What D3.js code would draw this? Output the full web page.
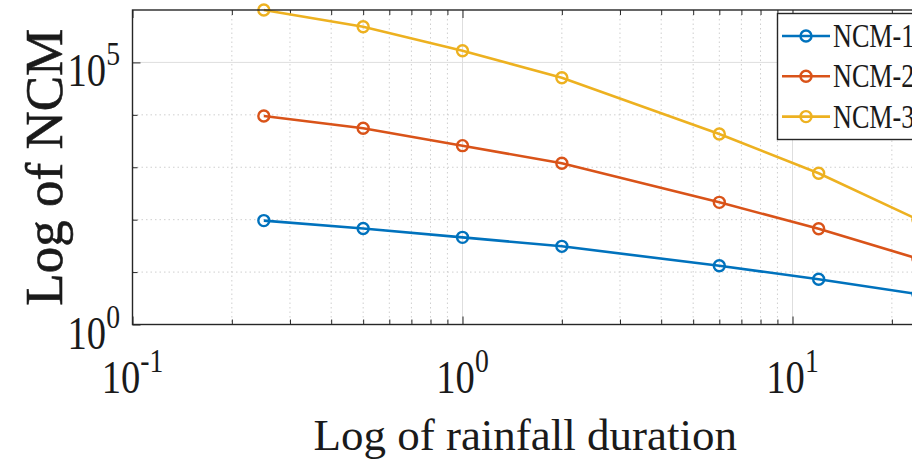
<!DOCTYPE html>
<html>
<head>
<meta charset="utf-8">
<script src="https://cdn.jsdelivr.net/npm/d3@7/dist/d3.min.js"></script>
<style>
  html, body { margin: 0; padding: 0; background: #fff; overflow: hidden; }
  svg { display: block; }
</style>
</head>
<body>
<svg id="chart" width="912" height="460"></svg>
<script>
// Rainfall duration (h) and NCM values per series
const durations = [0.25, 0.5, 1, 2, 6, 12, 24];
const seriesNames = ["NCM-1", "NCM-2", "NCM-3"];
const ncm1 = [96, 68, 46, 31, 13.2, 7.3, 3.8];
const ncm2 = [9500, 5530, 2580, 1190, 214, 67, 18];
const ncm3 = [1000000, 480000, 167000, 51000, 4300, 766, 100];
const seriesColors = ["#0072BD", "#D95319", "#EDB120"];

// Axis tick labels (base 10 with exponent)
const xTickValues = [0.1, 1, 10];
const xTickExponents = ["-1", "0", "1"];
const yTickValues = [1, 1e5];
const yTickExponents = ["0", "5"];

const svg = d3.select("#chart");
const plotLeft = 132.5, plotRight = 918, plotTop = 10, plotBottom = 324.5;

const x = d3.scaleLog().domain([0.1, 24]).range([plotLeft, plotRight]);
const y = d3.scaleLog().domain([1, 1e6]).range([plotBottom, plotTop]);

const axisColor = "#262626";
const serif = "'Liberation Serif', 'Times New Roman', serif";

// Minor positions: 2..9 within each decade on x, every decade on y
const xMinor = [];
[0.1, 1, 10].forEach(d => { for (let k = 2; k <= 9; k++) { const v = d * k; if (v <= 24) xMinor.push(v); } });
const yMinor = [10, 100, 1e3, 1e4];

const grid = svg.append("g");
grid.selectAll("line.xminor").data(xMinor).join("line")
  .attr("x1", d => x(d)).attr("x2", d => x(d)).attr("y1", plotTop).attr("y2", plotBottom)
  .attr("stroke", "#cfcfcf").attr("stroke-width", 1).attr("stroke-dasharray", "1.5,3");
grid.selectAll("line.yminor").data(yMinor).join("line")
  .attr("x1", plotLeft).attr("x2", plotRight).attr("y1", d => y(d)).attr("y2", d => y(d))
  .attr("stroke", "#cfcfcf").attr("stroke-width", 1).attr("stroke-dasharray", "1.5,3");
grid.selectAll("line.xmajor").data(xTickValues).join("line")
  .attr("x1", d => x(d)).attr("x2", d => x(d)).attr("y1", plotTop).attr("y2", plotBottom)
  .attr("stroke", "#dedede").attr("stroke-width", 1);
grid.selectAll("line.ymajor").data(yTickValues).join("line")
  .attr("x1", plotLeft).attr("x2", plotRight).attr("y1", d => y(d)).attr("y2", d => y(d))
  .attr("stroke", "#dedede").attr("stroke-width", 1);

// Ticks drawn inward with d3 axes (labels added separately)
function styleAxis(g) {
  g.select(".domain").remove();
  g.selectAll(".tick line").attr("stroke", axisColor).attr("stroke-width", 1);
  g.selectAll(".tick text").remove();
}
svg.append("g").attr("transform", `translate(0,${plotBottom})`)
  .call(d3.axisBottom(x).tickValues(xTickValues).tickSize(-8).tickFormat("")).call(styleAxis);
svg.append("g").attr("transform", `translate(0,${plotBottom})`)
  .call(d3.axisBottom(x).tickValues(xMinor).tickSize(-5).tickFormat("")).call(styleAxis);
svg.append("g").attr("transform", `translate(0,${plotTop})`)
  .call(d3.axisTop(x).tickValues(xTickValues).tickSize(-8).tickFormat("")).call(styleAxis);
svg.append("g").attr("transform", `translate(0,${plotTop})`)
  .call(d3.axisTop(x).tickValues(xMinor).tickSize(-5).tickFormat("")).call(styleAxis);
svg.append("g").attr("transform", `translate(${plotLeft},0)`)
  .call(d3.axisLeft(y).tickValues(yTickValues).tickSize(-8).tickFormat("")).call(styleAxis);
svg.append("g").attr("transform", `translate(${plotLeft},0)`)
  .call(d3.axisLeft(y).tickValues(yMinor).tickSize(-5).tickFormat("")).call(styleAxis);

// Data series
const allSeries = [ncm1, ncm2, ncm3].map((vals, i) => ({
  name: seriesNames[i], color: seriesColors[i],
  points: durations.map((d, j) => ({ d, v: vals[j] }))
}));
const line = d3.line().x(p => x(p.d)).y(p => y(p.v));
const plot = svg.append("g");
allSeries.forEach(s => {
  plot.append("path").datum(s.points).attr("d", line)
    .attr("fill", "none").attr("stroke", s.color).attr("stroke-width", 2.6);
  plot.selectAll(null).data(s.points).join("circle")
    .attr("cx", p => x(p.d)).attr("cy", p => y(p.v)).attr("r", 5.5)
    .attr("fill", "none").attr("stroke", s.color).attr("stroke-width", 2.4);
});

// Axes box
svg.append("rect").attr("x", plotLeft).attr("y", plotTop)
  .attr("width", plotRight - plotLeft).attr("height", plotBottom - plotTop)
  .attr("fill", "none").attr("stroke", axisColor).attr("stroke-width", 1.4);

// Tick labels
function powerLabel(g, exp, anchor) {
  const t = g.append("text").attr("text-anchor", anchor)
    .attr("font-family", serif).attr("font-size", 46).attr("fill", "#1a1a1a");
  t.append("tspan").text("10");
  t.append("tspan").attr("font-size", 33).attr("dy", -21).text(exp);
}
xTickValues.forEach((v, i) => {
  const g = svg.append("g").attr("transform", `translate(${x(v)},393) scale(0.84,1)`);
  powerLabel(g, xTickExponents[i], "middle");
});
yTickValues.forEach((v, i) => {
  const g = svg.append("g").attr("transform", `translate(120,${y(v) + 24}) scale(0.84,1)`);
  powerLabel(g, yTickExponents[i], "end");
});

// Axis titles
svg.append("text").attr("x", (plotLeft + plotRight) / 2).attr("y", 450)
  .attr("text-anchor", "middle").attr("font-family", serif).attr("font-size", 45)
  .attr("fill", "#1a1a1a").text("Log of rainfall duration");
svg.append("text").attr("transform", `translate(62,${(plotTop + plotBottom) / 2}) rotate(-90)`)
  .attr("text-anchor", "middle").attr("font-family", serif).attr("font-size", 53)
  .attr("fill", "#1a1a1a").attr("stroke", "#1a1a1a").attr("stroke-width", 0.6)
  .text("Log of NCM");

// Legend (box runs past the right edge of the axes area)
const legend = svg.append("g");
legend.append("rect").attr("x", 777.5).attr("y", 13.5).attr("width", 180).attr("height", 126)
  .attr("fill", "#fff").attr("stroke", axisColor).attr("stroke-width", 1.4);
allSeries.forEach((s, i) => {
  const cy = 36 + i * 40.3;
  legend.append("line").attr("x1", 782).attr("x2", 830).attr("y1", cy).attr("y2", cy)
    .attr("stroke", s.color).attr("stroke-width", 2.6);
  legend.append("circle").attr("cx", 806).attr("cy", cy).attr("r", 5.5)
    .attr("fill", "none").attr("stroke", s.color).attr("stroke-width", 2.4);
  legend.append("g").attr("transform", `translate(833,${cy + 11}) scale(0.77,1)`)
    .append("text").attr("font-family", serif).attr("font-size", 34)
    .attr("fill", "#1a1a1a").text(s.name);
});
</script>
</body>
</html>
